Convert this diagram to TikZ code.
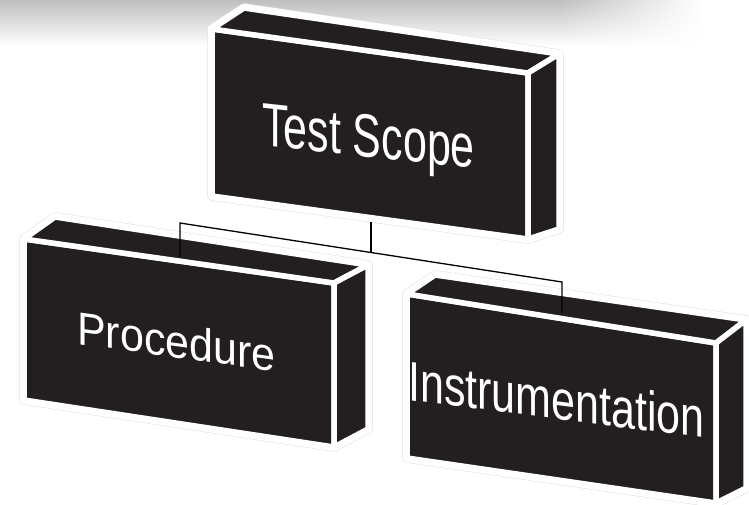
\documentclass[tikz,border=0pt]{standalone}
\usepackage{fontspec}
\setmainfont{Liberation Sans}
\usetikzlibrary{fadings}
\definecolor{boxfill}{HTML}{231F20}
\newcommand\drawcube[1]{%
  \draw[halo] (#1D)--(#1A)--(#1E)--(#1F)--(#1G)--(#1C)--cycle;
  \draw[haloin] (#1D)--(#1A)--(#1E)--(#1F)--(#1G)--(#1C)--cycle;
  \filldraw[face] (#1A)--(#1B)--(#1C)--(#1D)--cycle;
  \filldraw[face] (#1A)--(#1E)--(#1F)--(#1B)--cycle;
  \filldraw[face] (#1B)--(#1F)--(#1G)--(#1C)--cycle;
}
\begin{document}
\begin{tikzpicture}[x=1pt,y=-1pt,
  face/.style={fill=boxfill, draw=white, line width=5.5pt, line join=round},
  halo/.style={draw=black!12, line width=9.5pt, line join=round},
  haloin/.style={draw=white, line width=8.5pt, line join=round},
  lbl/.style={text=white, inner sep=0pt, anchor=base west},
  conn/.style={draw=black, line width=1.3pt}]
\useasboundingbox (0,0) rectangle (749,504);
\fill[white] (0,0) rectangle (749,504);
\shade[top color=black!25, bottom color=white] (0,0) rectangle (749,46);
\fill[white, path fading=west] (560,-1) rectangle (700,47);
\fill[white] (700,-1) rectangle (750,47);
% Test Scope box
\coordinate (tsA) at (212,29);
\coordinate (tsB) at (528,73);
\coordinate (tsC) at (528,239);
\coordinate (tsD) at (212,196);
\coordinate (tsE) at (244,8);
\coordinate (tsF) at (559,54);
\coordinate (tsG) at (559,229);
\drawcube{ts}
% Procedure box
\coordinate (prA) at (24,239);
\coordinate (prB) at (334,283);
\coordinate (prC) at (334,447);
\coordinate (prD) at (24,400);
\coordinate (prE) at (55,217);
\coordinate (prF) at (368,265);
\coordinate (prG) at (368,429);
\drawcube{pr}
% Instrumentation box
\coordinate (inA) at (407,294);
\coordinate (inB) at (716,343);
\coordinate (inC) at (716,503);
\coordinate (inD) at (407,458);
\coordinate (inE) at (435,275);
\coordinate (inF) at (746,320);
\coordinate (inG) at (746,488);
\drawcube{in}
% labels
\node[lbl, font=\fontsize{43}{43}\selectfont, yslant=-0.11, yscale=1.42] (tsT) at (262,145) {Test Scope};
\node[lbl, font=\fontsize{43}{43}\selectfont, yslant=-0.138, yscale=1.08] (prT) at (77,344) {Procedure};
\node[lbl, font=\fontsize{43}{43}\selectfont, yslant=-0.128, yscale=1.3] (inT) at (408,400) {Instrumentation};
% connectors
\coordinate (tsBot) at (371,222);
\coordinate (jM) at (371,252.5);
\coordinate (jL) at (180,223);
\coordinate (jR) at (562,282);
\coordinate (prTop) at (180,257);
\coordinate (inTop) at (562,313);
\draw[conn] (prTop)--(jL)--(jR)--(inTop);
\draw[conn] (tsBot)--(jM);
\end{tikzpicture}
\end{document}
